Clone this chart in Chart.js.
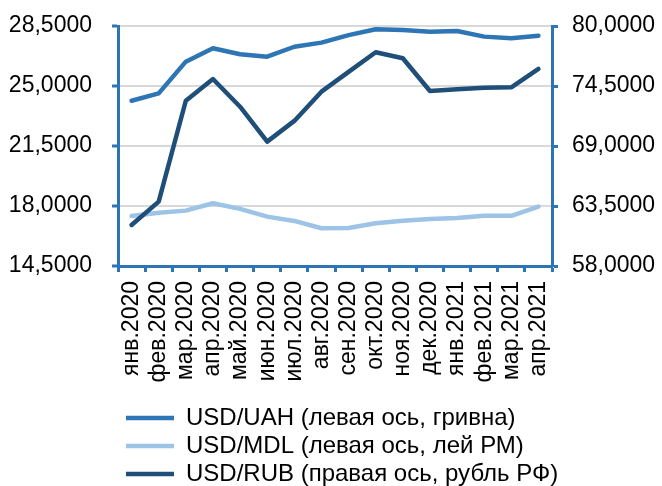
<!DOCTYPE html>
<html>
<head>
<meta charset="utf-8">
<script src="https://cdn.jsdelivr.net/npm/chart.js@4/dist/chart.umd.min.js"></script>
<style>
html,body{margin:0;padding:0;background:#fff;}
#wrap{width:662px;height:486px;}
</style>
</head>
<body>
<div id="wrap"><canvas id="c" width="662" height="486"></canvas></div>
<script>
const categories = ['янв.2020','фев.2020','мар.2020','апр.2020','май.2020','июн.2020','июл.2020','авг.2020','сен.2020','окт.2020','ноя.2020','дек.2020','янв.2021','фев.2021','мар.2021','апр.2021'];
const uah = [24.14, 24.57, 26.42, 27.20, 26.85, 26.71, 27.29, 27.53, 27.97, 28.31, 28.27, 28.17, 28.21, 27.88, 27.78, 27.93];
const mdl = [17.42, 17.61, 17.73, 18.16, 17.83, 17.38, 17.13, 16.70, 16.72, 16.99, 17.14, 17.24, 17.30, 17.43, 17.43, 17.96];
const rub = [61.76, 63.90, 73.15, 75.14, 72.60, 69.40, 71.30, 73.98, 75.80, 77.59, 77.04, 74.04, 74.20, 74.35, 74.38, 76.06];
const seriesNames = ['USD/UAH (левая ось, гривна)', 'USD/MDL (левая ось, лей РМ)', 'USD/RUB (правая ось, рубль РФ)'];
const leftTicks = [14.5, 18, 21.5, 25, 28.5];
const rightTicks = [58, 63.5, 69, 74.5, 80];

const AXIS = '#2e75b6';
const FONT = "'Liberation Sans', Arial, sans-serif";
const FS_T = 23;
const FS_L = 24;
const fmt = v => Number(v).toFixed(4).replace('.', ',');

const legendShift = {
  id: 'legendShift',
  afterLayout(chart) {
    const lg = chart.legend;
    const w = lg.right - lg.left, h = lg.bottom - lg.top;
    lg.left = 122; lg.right = 122 + w;
    lg.top = 402; lg.bottom = 402 + h;
  }
};

new Chart(document.getElementById('c'), {
  type: 'line',
  data: {
    labels: categories,
    datasets: [
      {label: seriesNames[0], data: uah, yAxisID: 'yL', borderColor: '#2e75b6', backgroundColor: '#2e75b6', borderWidth: 4.5, order: 1},
      {label: seriesNames[1], data: mdl, yAxisID: 'yL', borderColor: '#9dc3e6', backgroundColor: '#9dc3e6', borderWidth: 4.5, order: 2},
      {label: seriesNames[2], data: rub, yAxisID: 'yR', borderColor: '#1f4e79', backgroundColor: '#1f4e79', borderWidth: 4.5, order: 0}
    ]
  },
  options: {
    responsive: false,
    animation: false,
    devicePixelRatio: 1,
    layout: {padding: {top: 26, left: 0, right: 0, bottom: 0}},
    elements: {
      point: {radius: 0, hoverRadius: 0},
      line: {tension: 0, borderCapStyle: 'round', borderJoinStyle: 'round', fill: false}
    },
    plugins: {
      tooltip: {enabled: false},
      legend: {
        position: 'bottom',
        align: 'start',
        labels: {
          usePointStyle: true,
          pointStyle: 'line',
          pointStyleWidth: 48,
          padding: 4,
          color: '#000',
          font: {family: FONT, size: FS_L},
          sort: (a, b) => a.datasetIndex - b.datasetIndex
        }
      }
    },
    scales: {
      x: {
        offset: true,
        grid: {display: true, drawOnChartArea: false, offset: true, tickLength: 6, tickColor: AXIS, tickWidth: 3},
        border: {display: true, color: AXIS, width: 3},
        ticks: {autoSkip: false, minRotation: 90, maxRotation: 90, padding: 9, color: '#000', font: {family: FONT, size: FS_T}},
        afterFit(s) { s.height = 126; }
      },
      yL: {
        position: 'left',
        min: 14.5, max: 28.5,
        afterBuildTicks(s) { s.ticks = leftTicks.map(v => ({value: v})); },
        grid: {color: '#d9d9d9', lineWidth: 2, tickLength: 6, tickColor: AXIS, tickWidth: 3},
        border: {display: true, color: AXIS, width: 3},
        ticks: {padding: 20, color: '#000', font: {family: FONT, size: FS_T}, callback: v => fmt(v)},
        afterFit(s) { s.width = 118; s.paddingTop = 0; s.paddingBottom = 0; }
      },
      yR: {
        position: 'right',
        min: 58, max: 80,
        afterBuildTicks(s) { s.ticks = rightTicks.map(v => ({value: v})); },
        grid: {drawOnChartArea: false, tickLength: 6, tickColor: AXIS, tickWidth: 3},
        border: {display: true, color: AXIS, width: 3},
        ticks: {padding: 14, color: '#000', font: {family: FONT, size: FS_T}, callback: v => fmt(v)},
        afterFit(s) { s.width = 110; s.paddingTop = 0; s.paddingBottom = 0; }
      }
    }
  },
  plugins: [legendShift]
});
</script>
</body>
</html>
